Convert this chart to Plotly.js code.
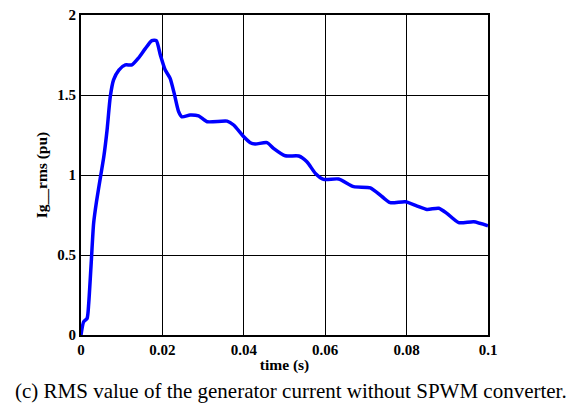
<!DOCTYPE html>
<html>
<head>
<meta charset="utf-8">
<script src="https://cdn.plot.ly/plotly-3.0.1.min.js"></script>
<style>html,body{margin:0;padding:0;background:#fff;}#chart{width:581px;height:403px;}</style>
</head>
<body>
<div id="chart"></div>
<script>
var timeS = [0, 0.00065, 0.0015, 0.0019, 0.0025, 0.0031, 0.0038, 0.0048, 0.0056, 0.0064, 0.0072, 0.008, 0.0093, 0.0109, 0.0125, 0.0141, 0.0158, 0.0174, 0.0185, 0.0195, 0.0207, 0.0219, 0.0229, 0.024, 0.0248, 0.0268, 0.0289, 0.031, 0.0359, 0.0375, 0.04, 0.0416, 0.0428, 0.0457, 0.0473, 0.0502, 0.0535, 0.0555, 0.0576, 0.0596, 0.0633, 0.067, 0.0711, 0.074, 0.076, 0.0797, 0.0826, 0.085, 0.0879, 0.0899, 0.0928, 0.0965, 0.1];
var igRms = [0, 0.083, 0.104, 0.198, 0.448, 0.698, 0.833, 0.99, 1.114, 1.28, 1.49, 1.594, 1.656, 1.688, 1.688, 1.73, 1.79, 1.84, 1.84, 1.75, 1.656, 1.604, 1.51, 1.395, 1.364, 1.375, 1.369, 1.333, 1.337, 1.3125, 1.239, 1.202, 1.194, 1.202, 1.167, 1.12, 1.119, 1.083, 1.01, 0.973, 0.975, 0.927, 0.92, 0.864, 0.827, 0.833, 0.806, 0.785, 0.792, 0.76, 0.702, 0.708, 0.683];
var xTicks = [0, 0.02, 0.04, 0.06, 0.08, 0.1];
var xTickText = ['0', '0.02', '0.04', '0.06', '0.08', '0.1'];
var yTicks = [0, 0.5, 1, 1.5, 2];
var yTickText = ['0', '0.5', '1', '1.5', '2'];
var caption = '(c) RMS value of the generator current without SPWM converter.';

var fam = '"Liberation Serif", "Times New Roman", serif';
function bold(a) { return a.map(function (s) { return '<b>' + s + '</b>'; }); }
var trace = {
  x: timeS, y: igRms, type: 'scatter', mode: 'lines',
  line: {color: '#0000ff', width: 3.5, shape: 'spline', smoothing: 0.6},
  hoverinfo: 'skip'
};
var tickFont = {family: fam, size: 15, color: '#000'};
var layout = {
  width: 581, height: 403,
  margin: {l: 81, r: 93, t: 15, b: 68},
  paper_bgcolor: '#fff', plot_bgcolor: '#fff',
  showlegend: false,
  font: {family: fam, color: '#000'},
  xaxis: {
    range: [0, 0.1], tickvals: xTicks, ticktext: bold(xTickText),
    showgrid: true, gridcolor: '#000', gridwidth: 1,
    zeroline: false, showline: true, linecolor: '#000', linewidth: 2, mirror: true,
    ticks: '', ticklen: 0, automargin: false,
    tickfont: tickFont,
    title: {text: '<b>time (s)</b>', font: {family: fam, size: 15.5, color: '#000'}, standoff: 2}
  },
  yaxis: {
    range: [0, 2], tickvals: yTicks, ticktext: bold(yTickText),
    showgrid: true, gridcolor: '#000', gridwidth: 1,
    zeroline: false, showline: true, linecolor: '#000', linewidth: 2, mirror: true,
    ticks: '', ticklen: 0, automargin: false,
    tickfont: tickFont,
    title: {text: '<b>Ig__rms (pu)</b>', font: {family: fam, size: 15.5, color: '#000'}, standoff: 6}
  },
  annotations: [{
    text: caption, xref: 'paper', yref: 'paper', x: 0.516, y: 0, yshift: -56,
    xanchor: 'center', yanchor: 'middle', showarrow: false,
    font: {family: fam, size: 21, color: '#000'}
  }]
};
Plotly.newPlot('chart', [trace], layout, {staticPlot: true, displayModeBar: false});
</script>
</body>
</html>
